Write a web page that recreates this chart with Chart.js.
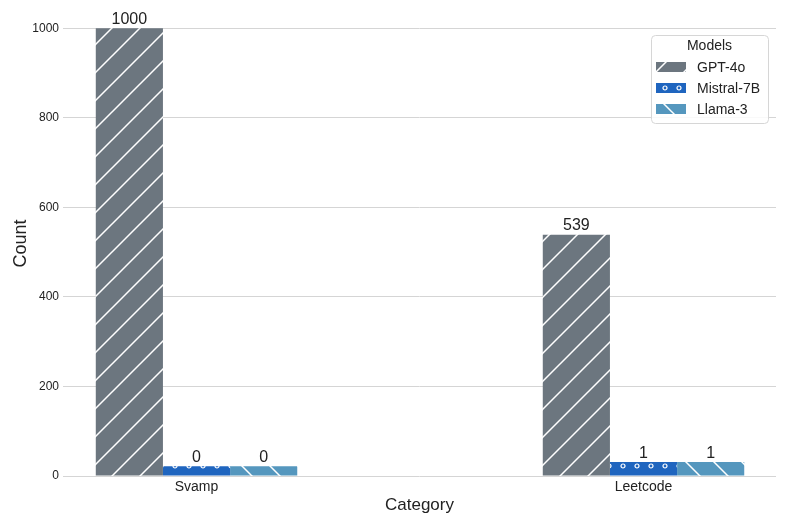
<!DOCTYPE html>
<html>
<head>
<meta charset="utf-8">
<script src="https://cdn.jsdelivr.net/npm/chart.js@4"></script>
<style>body{margin:0;background:#fff}</style>
</head>
<body>
<canvas id="chart" width="789" height="526"></canvas>
<script>
var categories = ['Svamp', 'Leetcode'];
var models = ['GPT-4o', 'Mistral-7B', 'Llama-3'];
// counts printed above the bars
var gptCounts = [1000, 539];
var mistralCounts = [0, 1];
var llamaCounts = [0, 1];
// bar heights as drawn in the picture (tiny counts are drawn with a visible stub)
var gptHeights = [1000, 539];
var mistralHeights = [22, 31];
var llamaHeights = [22, 31];
var yTicks = [0, 200, 400, 600, 800, 1000];

var FONT = "'Liberation Sans', Arial, sans-serif";

function makePattern(bg, kind) {
  var c = document.createElement('canvas');
  var s = kind === 'o' ? 14 : 28;
  c.width = s; c.height = s;
  var g = c.getContext('2d');
  g.fillStyle = bg;
  g.fillRect(0, 0, s, s);
  g.strokeStyle = '#ffffff';
  g.lineWidth = 1.5;
  if (kind === '/') {
    g.beginPath();
    g.moveTo(-2, s + 2); g.lineTo(s + 2, -2);
    g.moveTo(-2, 2); g.lineTo(2, -2);
    g.moveTo(s - 2, s + 2); g.lineTo(s + 2, s - 2);
    g.stroke();
  } else if (kind === '\\') {
    g.beginPath();
    g.moveTo(-2, -2); g.lineTo(s + 2, s + 2);
    g.moveTo(s - 2, -2); g.lineTo(s + 2, 2);
    g.moveTo(-2, s - 2); g.lineTo(2, s + 2);
    g.stroke();
  } else {
    // small rings, one row lined up with the bar tops
    g.lineWidth = 1.2;
    g.beginPath();
    g.arc(7, 4, 2, 0, Math.PI * 2);
    g.stroke();
  }
  return g.createPattern(c, 'repeat');
}

var colors = ['#6c767f', '#1f65bf', '#5597be'];
var hatches = ['/', 'o', '\\'];
var heights = [gptHeights, mistralHeights, llamaHeights];
var counts = [gptCounts, mistralCounts, llamaCounts];

var datasets = models.map(function (m, k) {
  return {
    label: m,
    data: categories.map(function (c, i) { return { x: i, y: heights[k][i] }; }),
    backgroundColor: makePattern(colors[k], hatches[k]),
    borderWidth: 0,
    counts: counts[k]
  };
});

var valueLabels = {
  id: 'valueLabels',
  afterDatasetsDraw: function (chart) {
    var ctx = chart.ctx;
    ctx.save();
    ctx.font = '16px ' + FONT;
    ctx.fillStyle = '#222';
    ctx.textAlign = 'center';
    ctx.textBaseline = 'bottom';
    chart.data.datasets.forEach(function (ds, k) {
      chart.getDatasetMeta(k).data.forEach(function (bar, i) {
        ctx.fillText(String(ds.counts[i]), bar.x, bar.y - 1);
      });
    });
    ctx.restore();
  }
};

var boxLegend = {
  id: 'boxLegend',
  afterDraw: function (chart) {
    var ctx = chart.ctx;
    ctx.save();
    var x = 651, y = 35, w = 117, h = 88, r = 4;
    ctx.beginPath();
    ctx.roundRect(x + 0.5, y + 0.5, w, h, r);
    ctx.fillStyle = 'rgba(255,255,255,0.85)';
    ctx.fill();
    ctx.strokeStyle = '#d6d6d6';
    ctx.lineWidth = 1;
    ctx.stroke();
    ctx.fillStyle = '#222';
    ctx.font = '14px ' + FONT;
    ctx.textAlign = 'center';
    ctx.textBaseline = 'middle';
    ctx.fillText('Models', 709.5, 46);
    ctx.textAlign = 'left';
    chart.data.datasets.forEach(function (ds, k) {
      var cy = 67 + k * 21;
      ctx.fillStyle = ds.backgroundColor;
      ctx.fillRect(656, cy - 5, 30, 10);
      ctx.fillStyle = '#222';
      ctx.fillText(ds.label, 697, cy + 1);
    });
    ctx.restore();
  }
};

new Chart(document.getElementById('chart').getContext('2d'), {
  type: 'bar',
  data: { datasets: datasets },
  plugins: [valueLabels, boxLegend],
  options: {
    responsive: false,
    animation: false,
    layout: { padding: { top: 0, right: 13, left: 0, bottom: 0 } },
    datasets: { bar: { categoryPercentage: 0.4507, barPercentage: 1 } },
    plugins: { legend: { display: false }, tooltip: { enabled: false } },
    scales: {
      x: {
        type: 'linear',
        offset: false,
        min: -0.2987,
        max: 1.2964,
        grid: { display: false, drawTicks: false },
        border: { display: false },
        afterBuildTicks: function (scale) {
          scale.ticks = categories.map(function (c, i) { return { value: i }; });
        },
        afterFit: function (scale) { scale.height = 50; },
        ticks: {
          autoSkip: false,
          maxRotation: 0,
          padding: 3,
          color: '#222',
          font: { family: FONT, size: 14 },
          callback: function (v) { return categories[v]; }
        },
        title: { display: true, text: 'Category', color: '#222', font: { family: FONT, size: 17 }, padding: { top: 0, bottom: 10 } }
      },
      y: {
        min: 0,
        max: 1038,
        grid: { color: '#d5d5d5', lineWidth: 1, drawTicks: false },
        border: { display: false },
        afterBuildTicks: function (scale) {
          scale.ticks = yTicks.map(function (v) { return { value: v }; });
        },
        afterFit: function (scale) { scale.width = 63; },
        ticks: { padding: 4, color: '#222', font: { family: FONT, size: 12 }, callback: function (v) { return String(v); } },
        title: { display: true, text: 'Count', color: '#222', font: { family: FONT, size: 18 }, padding: { top: 10, bottom: 0 } }
      }
    }
  }
});
</script>
</body>
</html>
